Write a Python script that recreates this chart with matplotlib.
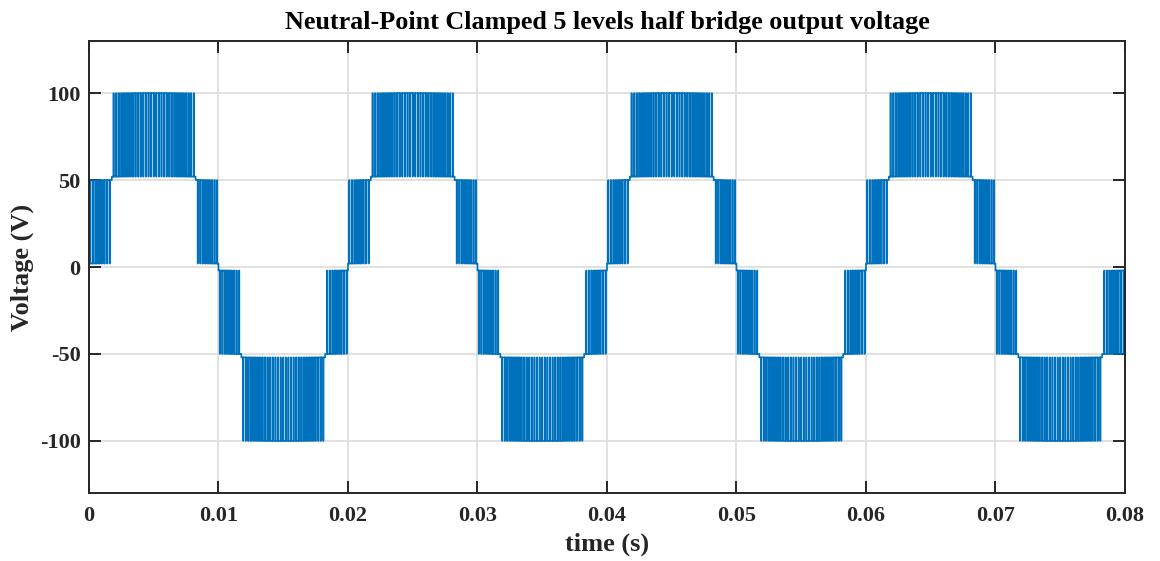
import numpy as np
import matplotlib
matplotlib.use("Agg")
import matplotlib.pyplot as plt

# Inverter / modulator settings
f_fund = 50.0          # output fundamental (Hz)
f_carrier = 5000.0     # PWM carrier (Hz)
mod_index = 0.95       # modulation index
band_width = 50.0      # voltage step between adjacent levels (V)
t_end = 0.08           # simulated time (s)
t_step = 1e-6          # solver step (s)

# (inner state, outer state) for each carrier band
pos_bands = [(2.0, 50.0), (52.0, 100.0)]
neg_bands = [(-2.0, -50.0), (-52.0, -100.0)]

x_ticks = [0, 0.01, 0.02, 0.03, 0.04, 0.05, 0.06, 0.07, 0.08]
x_ticklabels = ["0", "0.01", "0.02", "0.03", "0.04", "0.05", "0.06", "0.07", "0.08"]
y_ticks = [-100, -50, 0, 50, 100]
y_ticklabels = ["-100", "-50", "0", "50", "100"]

title = "Neutral-Point Clamped 5 levels half bridge output voltage"
x_label = "time (s)"
y_label = "Voltage (V)"

# Phase-disposition PWM: sine reference against level-shifted triangular carriers
t = np.arange(0.0, t_end + t_step / 2, t_step)
ref = mod_index * 2 * band_width * np.sin(2 * np.pi * f_fund * t)
carrier = np.abs(2 * ((t * f_carrier) % 1.0) - 1.0)
mag = np.abs(ref)
band = np.minimum((mag // band_width).astype(int), len(pos_bands) - 1)
duty = (mag - band * band_width) / band_width
on = duty > carrier

pos_lo = np.array([b[0] for b in pos_bands])
pos_hi = np.array([b[1] for b in pos_bands])
neg_lo = np.array([b[0] for b in neg_bands])
neg_hi = np.array([b[1] for b in neg_bands])
v_pos = np.where(on, pos_hi[band], pos_lo[band])
v_neg = np.where(on, neg_hi[band], neg_lo[band])
v_out = np.where(ref >= 0, v_pos, v_neg)

plt.rcParams["font.family"] = ["Liberation Serif", "DejaVu Serif"]
plt.rcParams["font.weight"] = "bold"

fig = plt.figure(figsize=(11.6, 5.61), dpi=100)
ax = fig.add_axes([0.0767, 0.1212, 0.8931, 0.8057])

ax.plot(t, v_out, color="#0072BD", lw=1.2, drawstyle="steps-post")

ax.set_xlim(0, 0.08)
ax.set_ylim(-130, 130)
ax.set_xticks(x_ticks)
ax.set_xticklabels(x_ticklabels)
ax.set_yticks(y_ticks)
ax.set_yticklabels(y_ticklabels)
ax.grid(True, color="#dcdcdc", lw=1.2)
ax.set_axisbelow(True)

for s in ax.spines.values():
    s.set_color("#262626")
    s.set_linewidth(1.4)
ax.tick_params(direction="in", length=8.5, width=1.4, color="#262626",
               top=True, right=True, labelsize=16, labelcolor="#262626")
ax.tick_params(axis="x", pad=9)
ax.tick_params(axis="y", pad=6)
for lab in ax.get_xticklabels() + ax.get_yticklabels():
    lab.set_fontweight("bold")

ax.set_title(title, fontsize=18.8, fontweight="bold", color="black", pad=8.5)
ax.set_xlabel(x_label, fontsize=19, fontweight="bold", color="#262626", labelpad=5)
ax.set_ylabel(y_label, fontsize=19, fontweight="bold", color="#262626", labelpad=4)

fig.savefig("out.png", dpi=100)
